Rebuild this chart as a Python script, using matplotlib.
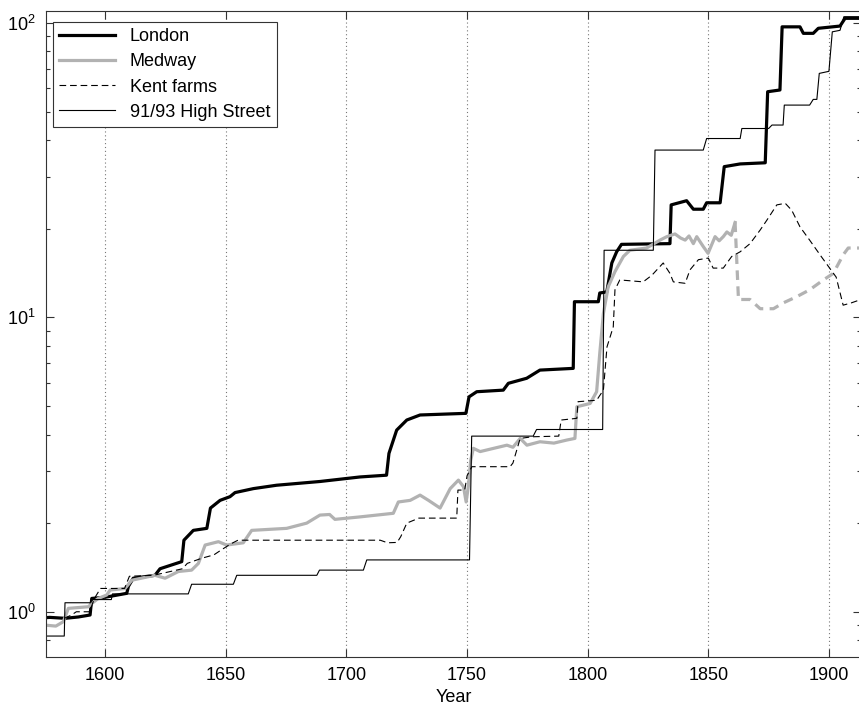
#!/usr/bin/env python3
"""Price index series (log scale) for London, Medway, Kent farms and
91/93 High Street, 1575-1912. Writes out.png."""
import matplotlib
matplotlib.use("Agg")
import matplotlib.pyplot as plt  # noqa: E402
from matplotlib.ticker import LogLocator, NullFormatter, FixedLocator  # noqa: E402

plt.rcParams["font.family"] = ["Liberation Sans", "DejaVu Sans"]
plt.rcParams["mathtext.fontset"] = "custom"
plt.rcParams["mathtext.rm"] = "Liberation Sans"
plt.rcParams["mathtext.it"] = "Liberation Sans:italic"

# ---- data -------------------------------------------------------------------
london_years = [1575.3, 1577, 1583.3, 1588.8, 1593.7, 1594.4, 1599.9, 1608.9,
                1609.6, 1611.6, 1620.6, 1622.7, 1631.7, 1632.6, 1636.5, 1642.1,
                1643.6, 1647.6, 1651.7, 1653.8, 1661.4, 1671, 1689, 1705.6,
                1716.6, 1717.6, 1720.8, 1725, 1730.5, 1749.5, 1750.8, 1754, 1765,
                1767.1, 1774.7, 1780.2, 1794, 1794.5, 1804.4, 1805, 1807.9,
                1810, 1812, 1814, 1834.1, 1834.6, 1841, 1843.8, 1847.9, 1849.3,
                1854.9, 1856.6, 1863.2, 1873.6, 1874.6, 1879.7, 1880.6, 1888,
                1889.4, 1893.5, 1895.6, 1904.6, 1906.7, 1913.3]
london = [0.955, 0.957, 0.95, 0.96, 0.975, 1.11, 1.12, 1.155, 1.22, 1.30, 1.33,
          1.40, 1.48, 1.75, 1.89, 1.92, 2.25, 2.39, 2.46, 2.54, 2.62, 2.69, 2.77,
          2.87, 2.91, 3.45, 4.14, 4.48, 4.66, 4.72, 5.37, 5.59, 5.66, 5.97, 6.21,
          6.62, 6.71, 11.3, 11.3, 12.1, 12.2, 15.3, 16.7, 17.7, 17.8, 24.1, 24.9,
          23.3, 23.3, 24.5, 24.5, 32.5, 33.2, 33.5, 58.4, 59.2, 97, 97, 92.2,
          92.2, 95.9, 97.6, 103.7, 103.7]

medway_years = [1575.5, 1579.5, 1582.6, 1584.7, 1593, 1594.4, 1597.1, 1600.6,
                1602, 1608.2, 1611, 1620.6, 1624.8, 1630.3, 1635.8, 1638.6,
                1641.4, 1646.9, 1650.3, 1653.8, 1657.2, 1660.7, 1675.2, 1683.5,
                1689, 1693, 1695.2, 1705.6, 1719.4, 1721.5, 1726.4, 1730.5,
                1734, 1738.8, 1743, 1746.4, 1748.5, 1749.6, 1750.5, 1751.5,
                1752.6, 1755.4, 1761, 1766.5, 1769, 1772, 1774.8, 1780.2, 1786,
                1791.3, 1794.7, 1795.5, 1801, 1803.7, 1805, 1806.5, 1808.5,
                1811.3, 1814.8, 1817.5, 1824.4, 1830, 1832.8, 1836.2, 1838.5,
                1840.4, 1842, 1843.8, 1845.2, 1847.9, 1849.9, 1852.8, 1854.5,
                1856.2, 1857.7, 1859.5, 1861.1]
medway = [0.90, 0.894, 0.925, 1.027, 1.04, 1.067, 1.11, 1.14, 1.185, 1.20, 1.28,
          1.33, 1.30, 1.37, 1.385, 1.46, 1.685, 1.73, 1.685, 1.70, 1.715, 1.89,
          1.92, 2.0, 2.13, 2.14, 2.06, 2.10, 2.16, 2.36, 2.39, 2.49, 2.39, 2.25,
          2.62, 2.80, 2.66, 2.36, 2.66, 3.27, 3.59, 3.50, 3.59, 3.68, 3.62, 3.88,
          3.68, 3.78, 3.74, 3.83, 3.88, 4.97, 5.10, 5.59, 7.55, 10.3, 12.7, 14.3,
          16.1, 16.9, 17.2, 18.3, 18.8, 19.2, 18.6, 18.3, 18.9, 17.8, 18.8, 17.4,
          16.5, 18.8, 18.2, 18.8, 19.5, 19.0, 21.0]
# after ~1862 the Medway series is drawn dashed
medway_late_years = [1861.1, 1862.5, 1867.3, 1871.5, 1877, 1881.1, 1886.6,
                     1892, 1897.7, 1901.8, 1905.9, 1908, 1913.3]
medway_late = [21.0, 11.5, 11.5, 10.7, 10.7, 11.2, 11.75, 12.4, 13.4, 14.1,
               16.3, 17.2, 17.2]

kent_years = [1583, 1586, 1588, 1593.5, 1595.5, 1598, 1608, 1610, 1620, 1627,
              1632, 1634, 1640, 1645, 1648, 1652, 1655, 1714, 1717, 1721,
              1722.5, 1725, 1730, 1745.7, 1746.2, 1749, 1750, 1752, 1767.8,
              1769, 1772, 1777, 1788, 1789, 1795.5, 1796, 1803.7, 1806.5, 1808,
              1810.6, 1811.3, 1813.3, 1823, 1826.6, 1831.3, 1834.1, 1835.5,
              1840.4, 1842.4, 1845.9, 1850, 1852, 1856.2, 1859.7, 1863.2,
              1867.3, 1871.5, 1874.3, 1878.4, 1881.9, 1884.6, 1888, 1892,
              1896.8, 1900.3, 1903, 1905.9, 1909.3, 1913.3]
kent = [0.95, 0.975, 1.0, 1.0, 1.11, 1.20, 1.20, 1.32, 1.33, 1.37, 1.40, 1.46,
        1.52, 1.56, 1.62, 1.70, 1.75, 1.75, 1.715, 1.72, 1.80, 2.0, 2.08, 2.08,
        2.59, 2.59, 2.9, 3.11, 3.11, 3.2, 3.88, 3.93, 3.95, 4.48, 4.54, 5.17,
        5.23, 5.66, 7.94, 9.29, 12.4, 13.4, 13.2, 13.9, 15.3, 14.1, 13.2, 13.05,
        14.5, 15.7, 15.9, 14.7, 14.7, 16.1, 16.7, 17.8, 19.8, 21.4, 24.1, 24.4,
        23.1, 20.3, 18.3, 16.1, 14.7, 13.7, 11.0, 11.2, 11.5]

high_st_years = [1575.3, 1583, 1583.3, 1594, 1594.4, 1602.5, 1603, 1634.4,
                 1635.8, 1653.1, 1654.5, 1687.7, 1688.8, 1707, 1708.4, 1751,
                 1751.9, 1777.4, 1778.8, 1806.2, 1806.8, 1827.2, 1827.9, 1847.9,
                 1849.3, 1863.2, 1863.9, 1875, 1876.4, 1881, 1881.5, 1892,
                 1893.5, 1895, 1896, 1900, 1901.4, 1904.6, 1906.2, 1913.3]
high_st = [0.827, 0.827, 1.073, 1.073, 1.10, 1.10, 1.15, 1.15, 1.24, 1.24, 1.33,
           1.33, 1.385, 1.385, 1.50, 1.50, 3.95, 3.95, 4.16, 4.16, 16.9, 16.9, 37,
           37, 40.5, 40.5, 43.8, 43.8, 45, 45, 52.6, 52.6, 55, 55, 67.4, 68.5,
           93.3, 94.4, 105, 105]

year_ticks = [1600, 1650, 1700, 1750, 1800, 1850, 1900]


def main():
    fig = plt.figure(figsize=(8.59, 7.07), dpi=100)
    # right spine sits just past the image edge, as in the original crop
    ax = fig.add_axes([45.7 / 859, 50 / 707, (861 - 45.7) / 859, 646 / 707])

    gray = "#b2b2b2"
    ax.plot(london_years, london, color="black", lw=2.3, label="London")
    ax.plot(medway_years, medway, color=gray, lw=2.3, label="Medway")
    ax.plot(medway_late_years, medway_late, color=gray, lw=2.3,
            linestyle=(0, (3, 2)))
    ax.plot(kent_years, kent, color="black", lw=0.8,
            linestyle=(0, (6, 3.5)), label="Kent farms")
    ax.plot(high_st_years, high_st, color="black", lw=0.8,
            label="91/93 High Street")

    ax.set_yscale("log")
    ax.set_xlim(1575.3, 1913.3)
    ax.set_ylim(0.702, 109.8)

    ax.xaxis.set_major_locator(FixedLocator(year_ticks))
    ax.xaxis.set_minor_locator(FixedLocator([]))
    ax.yaxis.set_major_locator(LogLocator(base=10))
    ax.yaxis.set_minor_locator(LogLocator(base=10, subs=range(2, 10)))
    ax.yaxis.set_minor_formatter(NullFormatter())

    ax.tick_params(which="both", direction="in", top=True, right=True,
                   labelsize=13, color="#333333")
    ax.tick_params(which="major", length=5.5, width=0.8)
    ax.tick_params(which="minor", length=3, width=0.8)
    ax.tick_params(axis="x", pad=7)
    ax.tick_params(axis="y", pad=7)

    ax.grid(axis="x", which="major", color="#777777", linestyle=(0, (1, 2.5)),
            lw=0.8)
    for s in ax.spines.values():
        s.set_color("#333333")
        s.set_linewidth(0.8)

    ax.set_xlabel("Year", fontsize=13, labelpad=4)

    leg = ax.legend(loc="upper left", bbox_to_anchor=(0.009, 0.983),
                    borderaxespad=0, fontsize=13, fancybox=False,
                    framealpha=1, edgecolor="#333333", handlelength=3.1,
                    handletextpad=0.8, labelspacing=0.45, borderpad=0.35)
    leg.get_frame().set_linewidth(0.8)

    fig.savefig("out.png", dpi=100)
    plt.close(fig)


if __name__ == "__main__":
    main()
